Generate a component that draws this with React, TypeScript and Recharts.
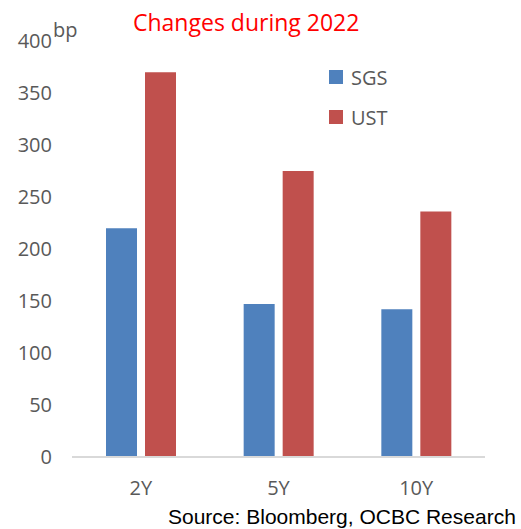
import React from 'react';
import { BarChart, Bar, XAxis, YAxis } from 'recharts';

const tenors = ['2Y', '5Y', '10Y'];
const sgs = [220, 147, 142];
const ust = [370, 275, 236];
const yTicks = [0, 50, 100, 150, 200, 250, 300, 350, 400];

const SERIES = [
  { key: 'SGS', color: '#4f81bd', values: sgs },
  { key: 'UST', color: '#c0504d', values: ust },
];

const data = tenors.map((t, i) => ({ tenor: t, SGS: sgs[i], UST: ust[i] }));

const GREY = '#595959';
const FONT = '"Open Sans", sans-serif';

export default function App() {
  return (
    <div style={{ position: 'absolute', left: 0, top: 0, width: 521, height: 529, background: '#fff', overflow: 'hidden' }}>
      <div style={{ position: 'absolute', left: 133, top: 6, fontFamily: FONT, fontSize: 23, color: '#ff0000', whiteSpace: 'nowrap' }}>
        Changes during 2022
      </div>
      <div style={{ position: 'absolute', left: 53, top: 16, fontFamily: FONT, fontSize: 20, color: GREY }}>bp</div>
      {/* legend: square swatch + label, stacked */}
      <div style={{ position: 'absolute', left: 329, top: 57 }}>
        {SERIES.map(s => (
          <div key={s.key} style={{ display: 'flex', alignItems: 'center', height: 40 }}>
            <span style={{ width: 14, height: 14, background: s.color, marginRight: 8 }} />
            <span style={{ fontFamily: FONT, fontSize: 20, color: GREY }}>{s.key}</span>
          </div>
        ))}
      </div>
      <BarChart
        width={521}
        height={529}
        data={data}
        margin={{ top: 41, right: 36, left: 0, bottom: 42 }}
        barSize={31}
        barGap={8}
      >
        <XAxis
          dataKey="tenor"
          height={30}
          tickLine={false}
          tickSize={0}
          tickMargin={24}
          axisLine={{ stroke: '#d9d9d9', strokeWidth: 2 }}
          tick={{ fill: GREY, fontFamily: FONT, fontSize: 20 }}
        />
        <YAxis
          width={72}
          domain={[0, 400]}
          ticks={yTicks}
          interval={0}
          axisLine={false}
          tickLine={false}
          tickSize={0}
          tickMargin={20}
          tick={{ fill: GREY, fontFamily: FONT, fontSize: 20 }}
        />
        {SERIES.map(s => (
          <Bar key={s.key} dataKey={s.key} fill={s.color} isAnimationActive={false} />
        ))}
      </BarChart>
      <div style={{ position: 'absolute', left: 168, top: 505, fontFamily: '"Liberation Sans", Arial, sans-serif', fontSize: 21, color: '#000', whiteSpace: 'nowrap' }}>
        Source: Bloomberg, OCBC Research
      </div>
    </div>
  );
}
